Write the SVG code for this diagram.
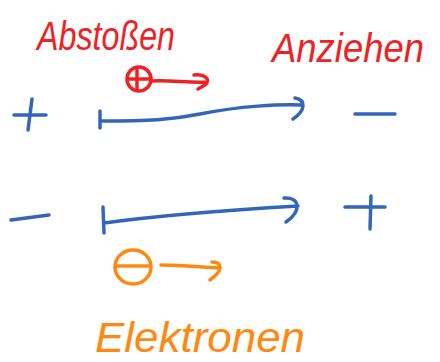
<svg xmlns="http://www.w3.org/2000/svg" width="440" height="362" viewBox="0 0 440 362">
<style>
.s{fill:none;stroke-linecap:round;stroke-linejoin:round;stroke-width:3.5}
.b{stroke:#3366bb}
.r{stroke:#ee2222}
.o{stroke:#ff8811}
.t{font-family:"Liberation Sans",Arial,sans-serif;font-style:italic}
.tr{fill:#ee2222}
.to{fill:#ff8811}
</style>
<rect width="440" height="362" fill="#fff"/>
<g id="label-abstossen"><text class="t tr" x="37" y="50" font-size="40" textLength="138" lengthAdjust="spacingAndGlyphs">Abstoßen</text></g>
<g id="label-anziehen"><text class="t tr" x="272" y="62" font-size="40" textLength="152" lengthAdjust="spacingAndGlyphs">Anziehen</text></g>
<g id="label-elektronen"><text class="t to" x="95" y="352" font-size="42" textLength="210" lengthAdjust="spacingAndGlyphs">Elektronen</text></g>
<g id="positive-charge">
<circle class="s r" cx="139" cy="79" r="12"/>
<path class="s r" d="M129 79 H151 M137 69 L137 90"/>
</g>
<g id="electron">
<ellipse class="s o" cx="133" cy="267" rx="18" ry="17"/>
<path class="s o" d="M116 266 H150"/>
</g>
<g id="plus-top"><path class="s b" d="M14 115 H46 M32 99 L28 130"/></g>
<g id="minus-top"><path class="s b" d="M355 114 H395"/></g>
<g id="minus-bottom"><path class="s b" d="M11 220 L49 215"/></g>
<g id="plus-bottom"><path class="s b" d="M345 207 H385 M371 196 L370 229"/></g>
<g id="connectors">
<path class="s r" d="M152 81 C170 80 190 83 206 82 M194 75 C204 74 212 79 205 85 L198 89"/>
<path class="s b" d="M100 111 V128 M100 121 C150 121 170 120 200 114 C240 106 280 104 302 105 M295 98 C306 100 306 110 293 119"/>
<path class="s b" d="M103 207 L104 233 M104 223 C170 214 230 210 298 206 M284 198 C300 197 302 211 286 222"/>
<path class="s o" d="M161 265 C180 265 200 267 220 268 M212 262 C222 262 224 270 210 280"/>
</g>
</svg>
